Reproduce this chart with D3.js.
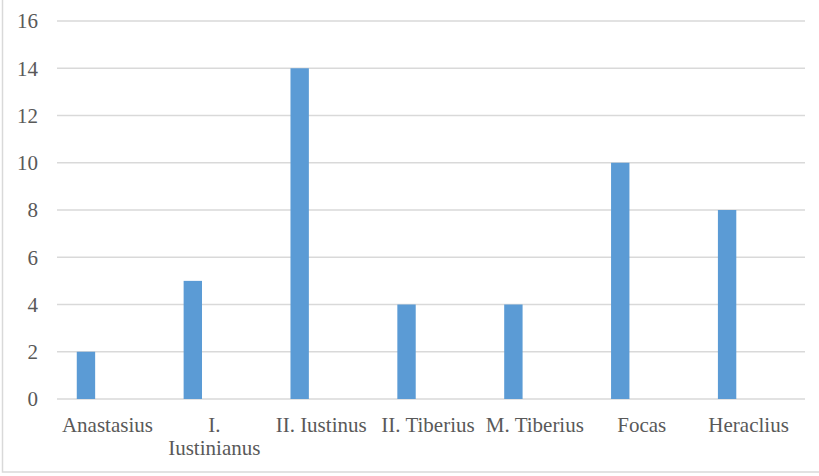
<!DOCTYPE html>
<html>
<head>
<meta charset="utf-8">
<script src="https://cdn.jsdelivr.net/npm/d3@7"></script>
<style>
  body { margin: 0; background: #fff; }
</style>
</head>
<body>
<div id="chart"></div>
<script>
(function () {

  const emperors = ['Anastasius', 'I. Iustinianus', 'II. Iustinus', 'II. Tiberius', 'M. Tiberius', 'Focas', 'Heraclius']
  const counts = [2, 5, 14, 4, 4, 10, 8]
  const yTicks = [0, 2, 4, 6, 8, 10, 12, 14, 16]

  const W = 819, H = 476
  const margin = { top: 21, right: 14, bottom: 77, left: 57 }
  const width = W - margin.left - margin.right
  const height = H - margin.top - margin.bottom
  const serif = "'Liberation Serif', 'Times New Roman', Times, serif"

  const root = d3.select("#chart").append("svg")
      .attr("width", W)
      .attr("height", H)

  // outer chart frame (only left + bottom edge visible in the picture)
  root.append("rect")
    .attr("x", 2.5).attr("y", -10)
    .attr("width", W + 10).attr("height", 482)
    .attr("fill", "none")
    .attr("stroke", "#d9d9d9")
    .attr("stroke-width", 1.5)

  const svg = root.append("g")
      .attr("transform", "translate(" + margin.left + "," + margin.top + ")")

  const xPositionScale = d3.scaleBand()
    .domain(emperors)
    .range([0, width])

  const yPositionScale = d3.scaleLinear()
    .domain([0, 16])
    .range([height, 0])

  // gridlines
  svg.selectAll('.grid')
    .data(yTicks)
    .join('line')
    .attr('class', 'grid')
    .attr('x1', 0)
    .attr('x2', width)
    .attr('y1', d => yPositionScale(d))
    .attr('y2', d => yPositionScale(d))
    .attr('stroke', '#d9d9d9')
    .attr('stroke-width', 1.3)

  // y labels
  svg.selectAll('.ylab')
    .data(yTicks)
    .join('text')
    .attr('class', 'ylab')
    .attr('x', -19)
    .attr('y', d => yPositionScale(d))
    .attr('dy', '0.35em')
    .attr('text-anchor', 'end')
    .attr('font-family', serif)
    .attr('font-size', 21)
    .attr('fill', '#595959')
    .text(d => d)

  // bars sit in the left part of each category (second series slot is empty)
  const bw = xPositionScale.bandwidth()
  svg.selectAll('rect.bar')
    .data(emperors)
    .join('rect')
    .attr('class', 'bar')
    .attr('x', d => xPositionScale(d) + bw * 0.185)
    .attr('width', bw * 0.172)
    .attr('y', (d, i) => yPositionScale(counts[i]))
    .attr('height', (d, i) => height - yPositionScale(counts[i]))
    .attr('fill', '#5b9bd5')

  // category labels, wrapped like the original
  const labels = svg.selectAll('.xlab')
    .data(emperors)
    .join('text')
    .attr('class', 'xlab')
    .attr('text-anchor', 'middle')
    .attr('font-family', serif)
    .attr('font-size', 21)
    .attr('fill', '#595959')
    .attr('transform', d => 'translate(' + (xPositionScale(d) + bw / 2 - 3) + ',' + (height + 33) + ')')

  labels.each(function (d) {
    const lines = d === 'I. Iustinianus' ? ['I.', 'Iustinianus'] : [d]
    d3.select(this).selectAll('tspan')
      .data(lines)
      .join('tspan')
      .attr('x', 0)
      .attr('dy', (l, i) => i === 0 ? 0 : 23)
      .text(l => l)
  })

})();
</script>
</body>
</html>
